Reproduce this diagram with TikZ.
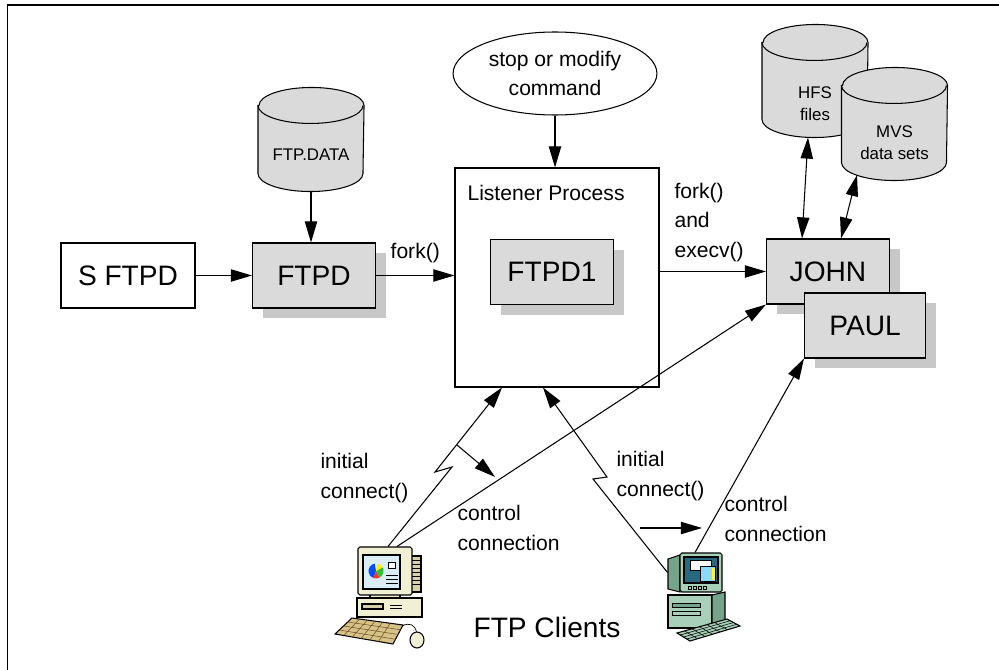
\documentclass[tikz,border=0pt]{standalone}
\usepackage{fontspec}
\setmainfont{Liberation Sans}
\usetikzlibrary{positioning, arrows.meta, shapes.geometric, shadows, calc}

\definecolor{boxgray}{RGB}{218,218,218}
\definecolor{shadowgray}{RGB}{200,200,200}
\definecolor{pcbeige}{RGB}{242,240,212}
\definecolor{pcbeigedark}{RGB}{214,208,168}
\definecolor{keytan}{RGB}{214,196,134}
\definecolor{pcgreen}{RGB}{168,208,184}
\definecolor{pcgreendark}{RGB}{118,164,138}
\definecolor{screenteal}{RGB}{40,104,128}
\definecolor{screenpale}{RGB}{218,236,246}

% disk drawn inside the frame of a (plain) node
\newcommand{\drawdisk}[1]{%
  \draw[fill=boxgray] ([yshift=-0.36cm]#1.north west) -- ([yshift=0.36cm]#1.south west)
    arc[start angle=180, end angle=360, x radius=1.05cm, y radius=0.36cm]
    -- ([yshift=-0.36cm]#1.north east)
    arc[start angle=0, end angle=180, x radius=1.05cm, y radius=0.36cm] -- cycle;
  \draw ([yshift=-0.36cm]#1.north west)
    arc[start angle=180, end angle=360, x radius=1.05cm, y radius=0.36cm];}

\begin{document}
\begin{tikzpicture}[
    line width=0.6pt,
    >={Triangle[length=12pt,width=7pt]},
    proc/.style={draw, fill=boxgray, minimum width=2.46cm, minimum height=1.3cm,
      font=\fontsize{16}{19}\selectfont,
      drop shadow={shadow xshift=0.2cm, shadow yshift=-0.2cm, fill=shadowgray, opacity=1}},
    plainbox/.style={draw, fill=white, minimum width=2.68cm, minimum height=1.3cm,
      font=\fontsize{16}{19}\selectfont},
    disk/.style={inner sep=0pt, minimum width=2.1cm, minimum height=2.24cm},
    disktext/.style={align=center, inner sep=0pt, font=\fontsize{9.6}{12.5}\selectfont},
    lbl/.style={align=left, inner sep=0pt, font=\fontsize{12}{17}\selectfont},
    screen/.style={draw, rounded corners=1pt, inner sep=0pt},
  ]
  \useasboundingbox (0,0) rectangle (19.98,-13.4);
  \draw[line width=1.1pt] (0.15,-13.4) -- (0.15,-0.1) -- (19.98,-0.1);

  % daemon side
  \node[plainbox] (sftpd) at (2.56,-5.51) {S FTPD};
  \node[proc] (ftpd) at (6.28,-5.51) {FTPD};
  \node[disk, minimum height=2.06cm] (ftpdata) at (6.22,-2.79) {};
  \drawdisk{ftpdata}
  \node[disktext] (ftpdatatext) at (6.22,-3.1) {FTP.DATA};

  \node[draw, minimum width=4.08cm, minimum height=4.38cm] (listener) at (11.14,-5.55) {};
  \node[lbl, anchor=west] (lsttitle) at (9.34,-3.86) {Listener Process};
  \node[proc] (ftpd1) at (11.04,-5.44) {FTPD1};
  \node[draw, ellipse, minimum width=3.8cm, minimum height=1.66cm, align=center,
    font=\fontsize{12}{16}\selectfont] (cmd) at (11.1,-1.47) {stop or modify\\command};

  % user processes and their data
  \node[proc] (john) at (16.56,-5.43) {JOHN};
  \node[proc, minimum width=2.42cm] (paul) at (17.3,-6.51) {PAUL};
  \node[disk] (hfs) at (16.3,-1.62) {};
  \drawdisk{hfs}
  \node[disk] (mvs) at (17.89,-2.48) {};
  \drawdisk{mvs}
  \node[disktext] (hfstext) at (16.3,-2.08) {HFS\\files};
  \node[disktext] (mvstext) at (17.89,-2.85) {MVS\\data sets};

  \draw[->] (sftpd.east) -- (ftpd.west);
  \draw[->] (ftpdata.south) -- (ftpdata.south |- ftpd.north);
  \draw[->] (ftpd.east) -- node[lbl, above=7pt] (forklbl) {fork()} (ftpd.east -| listener.west);
  \draw[->] (cmd.south) -- (cmd.south |- listener.north);
  \draw[->] (john.west -| listener.east) -- (john.west);
  \node[lbl, anchor=west] (execlbl) at (13.48,-4.45) {fork()\\and\\execv()};
  \draw[<->] ([xshift=-0.14cm]hfs.south) -- ([xshift=-0.52cm]john.north);
  \draw[<->] ([xshift=-0.75cm,yshift=0.11cm]mvs.south) -- ([xshift=0.26cm]john.north);

  % left client (beige)
  \draw[fill=pcbeigedark] (8.1,-11.12) rectangle (8.42,-11.84);
  \foreach \y in {-11.2,-11.28,...,-11.76}
    \draw[line width=0.3pt] (8.2,\y) -- (8.4,\y);
  \draw[fill=pcbeige] (7.4,-11.88) rectangle (8.0,-11.96);
  \draw[fill=pcbeige] (7.14,-11.96) rectangle (8.44,-12.34);
  \draw[fill=pcbeigedark] (7.24,-12.08) rectangle (7.66,-12.18);
  \draw[line width=0.4pt] (7.8,-12.1) -- (8.04,-12.1) (7.8,-12.16) -- (8.04,-12.16);
  \node[screen, fill=pcbeige, minimum width=1.08cm, minimum height=0.96cm] (pc1) at (7.7,-11.42) {};
  \draw[fill=screenpale] (7.26,-11.1) rectangle (8.0,-11.78);
  \fill[blue!70!cyan] (7.52,-11.42) -- ++(100:0.15) arc (100:250:0.15) -- cycle;
  \fill[red!80] (7.52,-11.42) -- ++(250:0.15) arc (250:300:0.15) -- cycle;
  \fill[green!70!black!80] (7.52,-11.42) -- ++(300:0.15) arc (300:390:0.15) -- cycle;
  \fill[yellow] (7.52,-11.42) -- ++(30:0.15) arc (30:80:0.15) -- cycle;
  \draw[line width=0.3pt, fill=white] (7.76,-11.24) rectangle (7.9,-11.36);
  \foreach \y in {-11.5,-11.58,-11.66}
    \draw[line width=0.3pt] (7.72,\y) -- (7.96,\y);
  \draw[fill=keytan] (6.7,-12.68) -- (7.04,-12.36) -- (8.06,-12.5) -- (7.86,-12.88) -- cycle;
  \foreach \t in {0.25,0.5,0.75}
    \draw[line width=0.3pt, brown!60!black]
      ($(6.7,-12.68)!\t!(7.04,-12.36)$) -- ($(7.86,-12.88)!\t!(8.06,-12.5)$);
  \foreach \t in {0.15,0.3,...,0.9}
    \draw[line width=0.3pt, brown!60!black]
      ($(6.7,-12.68)!\t!(7.86,-12.88)$) -- ($(7.04,-12.36)!\t!(8.06,-12.5)$);
  \draw[line width=0.4pt] (8.04,-12.52) .. controls (8.2,-12.44) and (8.3,-12.5) .. (8.33,-12.64);
  \draw[fill=pcbeige] (8.34,-12.8) ellipse (0.14 and 0.16);

  % right client (green)
  \draw[fill=pcgreen] (13.36,-11.9) rectangle (14.24,-12.56);
  \draw[fill=pcgreendark] (14.24,-11.9) -- (14.5,-11.84) -- (14.5,-12.5) -- (14.24,-12.56) -- cycle;
  \draw[line width=0.4pt, fill=pcgreendark] (13.44,-12.06) rectangle (14.0,-12.14);
  \draw[line width=0.4pt] (13.44,-12.22) rectangle (14.0,-12.3);
  \draw[fill=pcgreendark] (13.36,-11.18) -- (13.6,-11.1) -- (13.6,-11.84) -- (13.36,-11.78) -- cycle;
  \node[screen, fill=pcgreen, minimum width=0.84cm, minimum height=0.78cm] (pc2) at (14.02,-11.45) {};
  \draw[fill=screenteal] (13.68,-11.14) rectangle (14.36,-11.66);
  \draw[line width=0.3pt, fill=white] (13.8,-11.2) rectangle (14.22,-11.4);
  \draw[line width=0.3pt, fill=cyan!45] (14.0,-11.32) rectangle (14.3,-11.62);
  \fill[yellow!80] (14.24,-11.36) rectangle (14.29,-11.6);
  \foreach \x in {13.76,13.86,13.96,14.06}
    \draw[line width=0.3pt] (\x,-11.72) rectangle ++(0.07,-0.06);
  \draw[fill=pcgreen] (13.54,-12.66) -- (14.54,-12.38) -- (14.8,-12.52) -- (13.8,-12.82) -- cycle;
  \foreach \t in {0.25,0.5,0.75}
    \draw[line width=0.3pt]
      ($(13.54,-12.66)!\t!(13.8,-12.82)$) -- ($(14.54,-12.38)!\t!(14.8,-12.52)$);
  \foreach \t in {0.15,0.3,...,0.9}
    \draw[line width=0.3pt]
      ($(13.54,-12.66)!\t!(14.54,-12.38)$) -- ($(13.8,-12.82)!\t!(14.8,-12.52)$);

  % client connections
  \coordinate (zigA) at (9.04,-9.34);
  \coordinate (zigB) at (8.70,-9.44);
  \coordinate (zigC) at (11.86,-9.58);
  \coordinate (zigD) at (12.14,-9.54);
  \draw[->] ([xshift=0.06cm]pc1.north) -- (zigA) -- (zigB) -- ([xshift=-1.1cm]listener.south);
  \draw[->] ([xshift=-0.24cm]pc2.west) -- (zigC) -- (zigD) -- ([xshift=-0.28cm]listener.south);
  \draw[->] ([xshift=0.24cm]pc1.north) -- (john.south west);
  \draw[->] ([xshift=-0.12cm]pc2.north) -- (paul.south west);

  \coordinate (dirLa) at (9.14,-8.9);
  \coordinate (dirLb) at (9.9,-9.54);
  \coordinate (dirRa) at (12.8,-10.56);
  \coordinate (dirRb) at (14.04,-10.56);
  \draw[->] (dirLa) -- (dirLb);
  \draw[->] (dirRa) -- (dirRb);

  \node[lbl, anchor=west] (initL) at (6.4,-9.56) {initial\\connect()};
  \node[lbl, anchor=west] (ctrlL) at (9.14,-10.56) {control\\connection};
  \node[lbl, anchor=west] (initR) at (12.32,-9.52) {initial\\connect()};
  \node[lbl, anchor=west] (ctrlR) at (14.48,-10.38) {control\\connection};
  \node[font=\fontsize{16}{19}\selectfont] (clients) at (10.94,-12.54) {FTP Clients};
\end{tikzpicture}
\end{document}
